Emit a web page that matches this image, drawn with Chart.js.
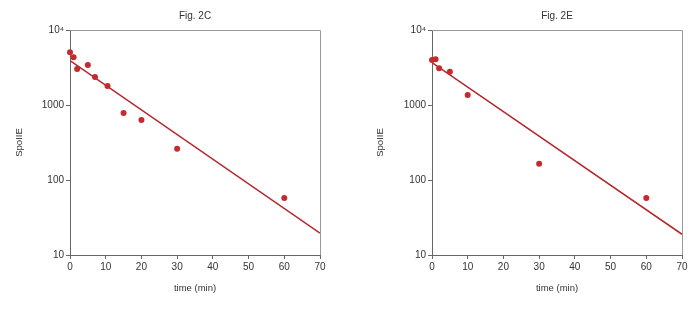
<!DOCTYPE html>
<html>
<head>
<meta charset="utf-8">
<script src="https://cdn.jsdelivr.net/npm/chart.js@4/dist/chart.umd.min.js"></script>
<style>
html,body{margin:0;padding:0;background:#fff;}
#wrap{position:relative;width:692px;height:310px;}
canvas{position:absolute;top:0;}
#c1{left:0;}
#c2{left:346px;}
</style>
</head>
<body>
<div id="wrap">
<canvas id="c1" width="346" height="310"></canvas>
<canvas id="c2" width="346" height="310"></canvas>
</div>
<script>
// ---- data ----
const titleC = "Fig. 2C";
const timeC = [0, 1, 2, 5, 7, 10.5, 15, 20, 30, 60];
const spoC  = [5040, 4320, 3020, 3415, 2360, 1790, 782, 631, 262, 57.5];
const fitTimeC = [0, 70];
const fitSpoC  = [3900, 19.6];

const titleE = "Fig. 2E";
const timeE = [0, 1, 2, 5, 10, 30, 60];
const spoE  = [3980, 4065, 3080, 2780, 1360, 165, 57.5];
const fitTimeE = [0, 70];
const fitSpoE  = [3665, 18.9];

const xTicks = [0, 10, 20, 30, 40, 50, 60, 70];
const yTicks = [10, 100, 1000, 10000];
const yTickLabels = ["10", "100", "1000", "10\u2074"];
const xLabel = "time (min)";
const yLabel = "SpoIIE";

const FONT = "'Liberation Sans', Arial, sans-serif";
const TXT = '#333333';

const boxPlugin = {
  id: 'box',
  afterDatasetsDraw(chart) {
    const a = chart.chartArea, ctx = chart.ctx;
    ctx.save();
    ctx.strokeStyle = '#9a9a9a';
    ctx.lineWidth = 1;
    ctx.beginPath();
    ctx.moveTo(a.left, a.top + 0.5);
    ctx.lineTo(a.right + 0.5, a.top + 0.5);
    ctx.lineTo(a.right + 0.5, a.bottom);
    ctx.stroke();
    ctx.restore();
  }
};

function makeChart(id, title, tx, ty, fx, fy, yAxisWidth, yTitlePad, rightPad) {
  const pts = tx.map((t, i) => ({x: t, y: ty[i]}));
  const fit = fx.map((t, i) => ({x: t, y: fy[i]}));
  return new Chart(document.getElementById(id), {
    type: 'scatter',
    data: {
      datasets: [
        {
          type: 'line',
          data: fit,
          borderColor: '#b3282c',
          borderWidth: 1.5,
          pointRadius: 0,
          fill: false,
          order: 2
        },
        {
          type: 'scatter',
          data: pts,
          backgroundColor: '#c42a2e',
          borderWidth: 0,
          pointRadius: 3,
          clip: false,
          order: 1
        }
      ]
    },
    options: {
      responsive: false,
      devicePixelRatio: 1,
      animation: false,
      layout: { padding: { left: 0, right: rightPad, top: 0, bottom: 0 } },
      plugins: {
        legend: { display: false },
        tooltip: { enabled: false },
        title: {
          display: true,
          text: title,
          fullSize: false,
          color: TXT,
          font: { family: FONT, size: 10, weight: 'normal', lineHeight: 1.2 },
          padding: { top: 10, bottom: 8 }
        }
      },
      scales: {
        x: {
          type: 'linear',
          min: 0, max: 70,
          afterBuildTicks(s) { s.ticks = xTicks.map(v => ({value: v})); },
          afterFit(s) { s.height = 55; },
          ticks: {
            color: TXT,
            font: { family: FONT, size: 10 },
            padding: 2,
            maxRotation: 0,
            autoSkip: false
          },
          grid: { drawOnChartArea: false, tickLength: 4, color: '#666666', tickColor: '#666666' },
          border: { color: '#666666', width: 1 },
          title: {
            display: true,
            text: xLabel,
            color: TXT,
            font: { family: FONT, size: 9.5, lineHeight: 1.2 },
            padding: { top: 0, bottom: 16 }
          }
        },
        y: {
          type: 'logarithmic',
          min: 10, max: 10000,
          afterBuildTicks(s) { s.ticks = yTicks.map(v => ({value: v})); },
          afterFit(s) { s.width = yAxisWidth; },
          ticks: {
            color: TXT,
            font: { family: FONT, size: 10 },
            padding: 2,
            autoSkip: false,
            callback(v) { const i = yTicks.indexOf(v); return i >= 0 ? yTickLabels[i] : ''; }
          },
          grid: { drawOnChartArea: false, tickLength: 4, color: '#666666', tickColor: '#666666' },
          border: { color: '#666666', width: 1 },
          title: {
            display: true,
            text: yLabel,
            color: TXT,
            font: { family: FONT, size: 9.5, lineHeight: 1.2 },
            padding: { top: yTitlePad, bottom: 0 }
          }
        }
      }
    },
    plugins: [boxPlugin]
  });
}

makeChart('c1', titleC, timeC, spoC, fitTimeC, fitSpoC, 70, 14, 26);
makeChart('c2', titleE, timeE, spoE, fitTimeE, fitSpoE, 86, 28.5, 10);
</script>
</body>
</html>
